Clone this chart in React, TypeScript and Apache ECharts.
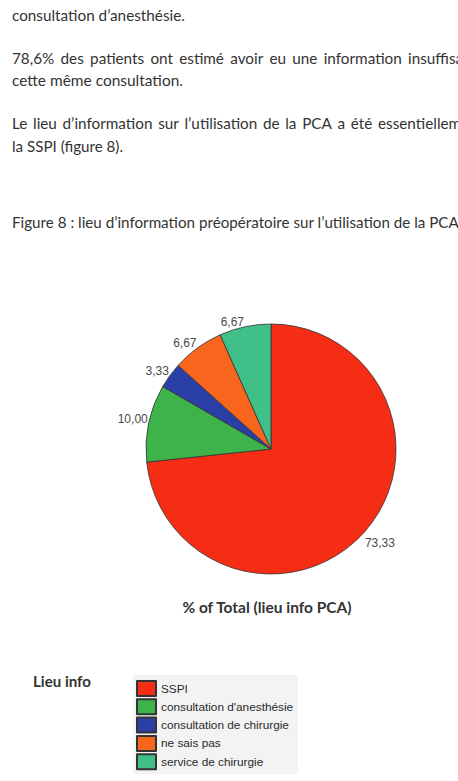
import React, { useEffect, useRef } from "react";
import * as echarts from "echarts";

const categories = [
  "SSPI",
  "consultation d'anesthésie",
  "consultation de chirurgie",
  "ne sais pas",
  "service de chirurgie",
];
const values = [73.33, 10.0, 3.33, 6.67, 6.67];
const colors = ["#f42d14", "#3db34a", "#2a3fa6", "#f8661e", "#40bf89"];

const line1 = "consultation d’anesthésie.";
const line2 = "78,6% des patients ont estimé avoir eu une information insuffisante";
const line3 = "cette même consultation.";
const line4 = "Le lieu d’information sur l’utilisation de la PCA a été essentiellement";
const line5 = "la SSPI (figure 8).";
const caption = "Figure 8 : lieu d’information préopératoire sur l’utilisation de la PCA";
const chartTitle = "% of Total (lieu info PCA)";
const legendTitle = "Lieu info";

const BODY_FONT = "Lato, 'Open Sans', sans-serif";
const LABEL_FONT = "Arial, 'Liberation Sans', sans-serif";

const ctx = document.createElement("canvas").getContext("2d") as CanvasRenderingContext2D;
function measure(text: string, size: number, weight = "normal") {
  ctx.font = `${weight} ${size}px ${BODY_FONT}`;
  return ctx.measureText(text).width;
}
function sizeFor(text: string, target: number, weight = "normal") {
  return (100 * target) / measure(text, 100, weight);
}

export default function App() {
  const ref = useRef<HTMLDivElement>(null);
  useEffect(() => {
    if (!ref.current) return;
    const chart = echarts.init(ref.current, undefined, { renderer: "svg" });
    const left = 12;
    const color = "#333";
    const baseSize = sizeFor(line1, 173);
    const graphic: any[] = [];
    const addText = (text: string, x: number, y: number, size: number, weight = "normal", align = "left") =>
      graphic.push({
        type: "text",
        x,
        y,
        style: {
          text,
          font: `${weight} ${size}px ${BODY_FONT}`,
          fill: color,
          align,
          verticalAlign: "middle",
        },
      });
    const justified = (text: string, y: number, anchorIdx: number, anchorX: number) => {
      const words = text.split(" ");
      const ws = words.map((w) => measure(w, baseSize));
      let before = 0;
      for (let i = 0; i < anchorIdx; i++) before += ws[i];
      const sp = (anchorX - left - before) / anchorIdx;
      let x = left;
      words.forEach((w, i) => {
        addText(w, x, y, baseSize);
        x += ws[i] + sp;
      });
    };
    addText(line1, left, 15, baseSize);
    justified(line2, 58, 9, 408);
    addText(line3, left, 80, sizeFor(line3, 171));
    justified(line4, 123, 10, 378);
    addText(line5, left, 146, sizeFor(line5, 111));
    addText(caption, left, 222, sizeFor("Figure 8 : lieu d’information préopératoire sur l’utilisation de la ", 418));
    addText(chartTitle, 267, 607, sizeFor(chartTitle, 170, "bold"), "bold", "center");
    addText(legendTitle, 33, 681, sizeFor(legendTitle, 58, "bold"), "bold");
    graphic.unshift({
      type: "rect",
      shape: { x: 133, y: 675, width: 165, height: 99 },
      style: { fill: "#f3f3f3" },
      silent: true,
    });

    const total = values.reduce((a, b) => a + b, 0);
    let cum = 0;
    const below: boolean[] = values.map((v) => {
      const mid = (90 - (360 * (cum + v / 2)) / total) * (Math.PI / 180);
      cum += v;
      return -Math.sin(mid) > 0;
    });
    const data = categories.map((c, i) => ({ name: c, value: values[i] }));

    chart.setOption({
      animation: false,
      backgroundColor: "#ffffff",
      graphic,
      legend: {
        orient: "vertical",
        left: 136,
        top: 680,
        padding: 0,
        itemWidth: 19,
        itemHeight: 15,
        itemGap: 1.3,
        icon: "rect",
        selectedMode: false,
        data: categories,
        textStyle: {
          fontFamily: LABEL_FONT,
          fontSize: 11.8,
          lineHeight: 14,
          color: "#2a2a2a",
        },
      },
      series: [
        {
          type: "pie",
          center: [271, 449],
          radius: 125,
          startAngle: 90,
          clockwise: true,
          avoidLabelOverlap: false,
          color: colors,
          data,
          itemStyle: { borderColor: "#333", borderWidth: 0.8 },
          label: {
            show: true,
            position: "outside",
            distanceToLabelLine: 1,
            formatter: (p: any) => Number(p.value).toFixed(2).replace(".", ","),
            fontFamily: LABEL_FONT,
            fontSize: 12,
            color: "#4a4a4a",
          },
          labelLayout: (p: any) => ({ dy: below[p.dataIndex] ? 10 : -4.5 }),
          labelLine: { show: false, length: 0, length2: 0 },
          emphasis: { disabled: true },
        },
      ],
    });
    return () => chart.dispose();
  }, []);
  return (
    <div
      ref={ref}
      style={{
        position: "absolute",
        left: 0,
        top: 0,
        width: 458,
        height: 781,
        overflow: "hidden",
        background: "#fff",
      }}
    />
  );
}
